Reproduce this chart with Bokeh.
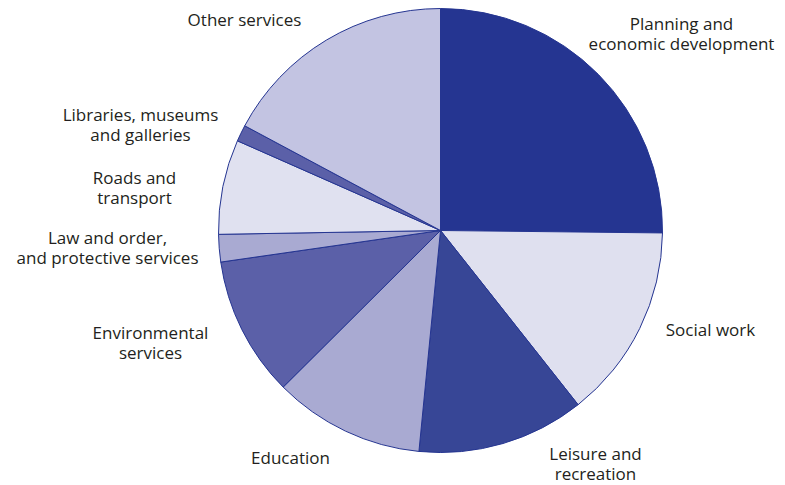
import numpy as np
from bokeh.plotting import figure
from bokeh.models import Range1d
from bokeh.core.properties import value
from bokeh.embed import file_html
from bokeh.resources import INLINE

categories = ["Planning and\neconomic development", "Social work", "Leisure and\nrecreation",
              "Education", "Environmental\nservices", "Law and order,\nand protective services",
              "Roads and\ntransport", "Libraries, museums\nand galleries", "Other services"]
shares = [25.2, 14.2, 12.2, 11.0, 10.2, 2.0, 6.9, 1.2, 17.2]
colors = ["#253591", "#dfe0ef", "#374696", "#a9aad2", "#5b60a8", "#a9aad2", "#e0e1f0", "#5b60a8", "#c3c4e2"]
label_x = [681, 710, 595, 290, 150, 107, 134, 140, 244]
label_y = [33, 329, 463, 457, 342, 247, 187, 124, 19]

W, H = 785, 485
cx, cy, r = 440, 230, 222

p = figure(width=W, height=H, x_range=Range1d(0, W), y_range=Range1d(0, H),
           output_backend="svg", toolbar_location=None, min_border=0)
p.axis.visible = False
p.grid.visible = False
p.outline_line_color = None
p.background_fill_color = "white"

s = np.array(shares) / sum(shares)
cum = np.concatenate([[0], np.cumsum(s)])
start = np.pi / 2 - 2 * np.pi * cum[:-1]
end = np.pi / 2 - 2 * np.pi * cum[1:]

p.wedge(x=cx, y=H - cy, radius=r, start_angle=start, end_angle=end, direction="clock",
        fill_color=colors, line_color="#253591", line_width=1)

p.text(x=label_x, y=[H - v for v in label_y], text=categories, text_align="center",
       text_baseline="middle", text_font=value("Open Sans"), text_font_size="17px",
       text_color="#231f20", text_line_height=0.84)

open("out.html", "w").write(file_html(p, INLINE))
